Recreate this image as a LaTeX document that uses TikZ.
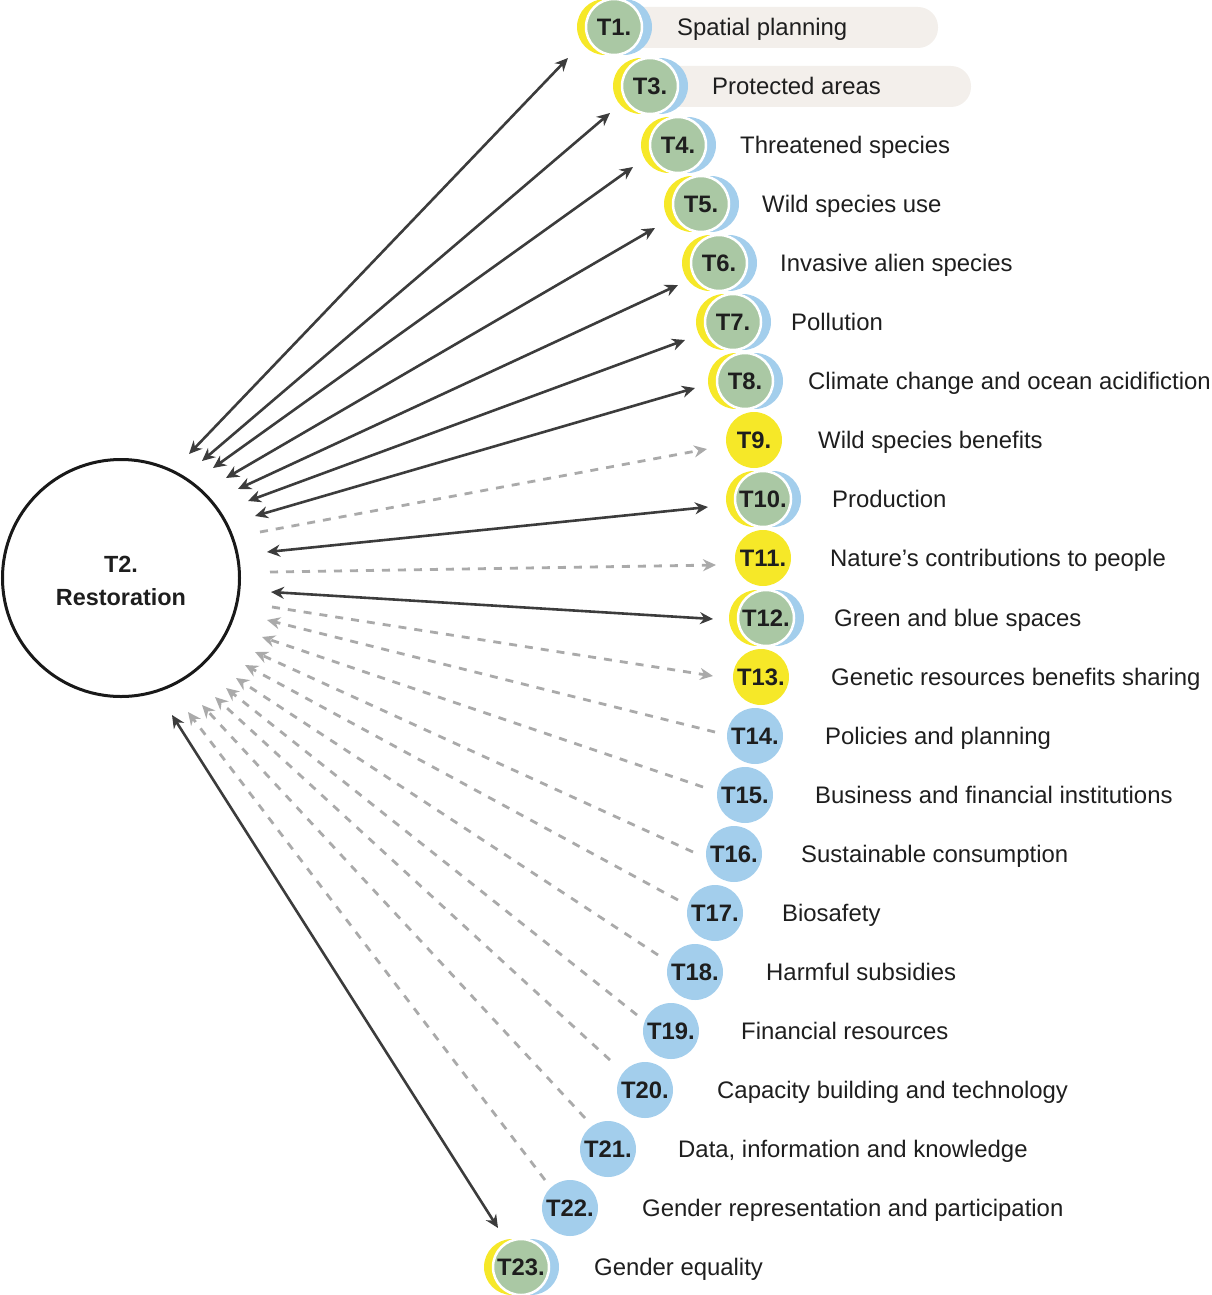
\documentclass[tikz,border=0pt]{standalone}
\usepackage{fontspec}
\setmainfont{Liberation Sans}
\usetikzlibrary{arrows.meta}
\definecolor{tgreen}{RGB}{170,200,164}
\definecolor{tyellow}{RGB}{246,232,40}
\definecolor{tblue}{RGB}{163,206,236}
\definecolor{pillc}{RGB}{243,239,235}
\definecolor{adark}{RGB}{60,60,60}
\definecolor{agray}{RGB}{170,170,170}
\definecolor{txt}{RGB}{30,30,30}
\newcommand\labfont{\fontsize{23.9}{28}\selectfont}
\newcommand\numfont{\fontsize{23.8}{28}\selectfont\bfseries}
\newcommand\mainfont{\fontsize{23.4}{33}\selectfont\bfseries}
\newcommand\mytri[4]{%
  \node[yc] (#1y) at ({#2-9},#3) {};
  \node[bc] (#1b) at ({#2+10},#3) {};
  \node[gc] (#1) at (#2,#3) {#4};
}
\newcommand\mylab[4]{\node[lab] (#1l) at (#2,{#3+8.5}) {#4};}
\begin{document}
\begin{tikzpicture}[x=1pt,y=-1pt,
  yc/.style={circle, fill=tyellow, minimum size=56pt, inner sep=0pt},
  bc/.style={circle, fill=tblue, minimum size=56pt, inner sep=0pt, font=\numfont, text=txt},
  ycn/.style={circle, fill=tyellow, minimum size=56pt, inner sep=0pt, font=\numfont, text=txt},
  gc/.style={circle, fill=tgreen, draw=white, line width=2.5pt, minimum size=56pt, inner sep=0pt, font=\numfont, text=txt},
  lab/.style={anchor=base west, font=\labfont, text=txt, inner sep=0pt},
  pill/.style={fill=pillc, rounded corners=20pt},
  sarr/.style={draw=adark, line width=2.6pt, {Stealth[length=13pt,width=12pt]}-{Stealth[length=13pt,width=12pt]}},
  darr/.style={draw=agray, line width=2.8pt, dash pattern=on 8pt off 8pt, -{Stealth[length=13pt,width=12pt]}}
]
\useasboundingbox (0,0) rectangle (1211,1295);
% pills
\fill[pill] (620,7) rectangle (938,48);
\fill[pill] (655,66) rectangle (971,107);
% main node
\node[circle, draw=black!90, line width=3pt, minimum size=237pt, inner sep=0pt] (t2) at (121,578) {};
\node[font=\mainfont, text=txt, align=center, inner sep=0pt] (t2l) at (121,581) {T2.\\Restoration};
% targets
\mytri{t1}{614}{27}{T1.}
\mytri{t3}{650}{86}{T3.}
\mytri{t4}{678}{145}{T4.}
\mytri{t5}{701}{204}{T5.}
\mytri{t6}{719}{263}{T6.}
\mytri{t7}{733}{322}{T7.}
\mytri{t8}{745}{381}{T8.}
\node[ycn] (t9) at (754,440) {T9.};
\mytri{t10}{763}{499}{T10.}
\node[ycn] (t11) at (763,558) {T11.};
\mytri{t12}{766}{618}{T12.}
\node[ycn] (t13) at (761,677) {T13.};
\node[bc] (t14) at (755,736) {T14.};
\node[bc] (t15) at (745,795) {T15.};
\node[bc] (t16) at (734,854) {T16.};
\node[bc] (t17) at (715,913) {T17.};
\node[bc] (t18) at (695,972) {T18.};
\node[bc] (t19) at (671,1031) {T19.};
\node[bc] (t20) at (645,1090) {T20.};
\node[bc] (t21) at (608,1149) {T21.};
\node[bc] (t22) at (570,1208) {T22.};
\mytri{t23}{521}{1267}{T23.}
% labels
\mylab{t1}{677}{27}{Spatial planning}
\mylab{t3}{712}{86}{Protected areas}
\mylab{t4}{740}{145}{Threatened species}
\mylab{t5}{762}{204}{Wild species use}
\mylab{t6}{780}{263}{Invasive alien species}
\mylab{t7}{791}{322}{Pollution}
\mylab{t8}{808}{381}{Climate change and ocean acidifiction}
\mylab{t9}{818}{440}{Wild species benefits}
\mylab{t10}{832}{499}{Production}
\mylab{t11}{830}{558}{Nature’s contributions to people}
\mylab{t12}{834}{618}{Green and blue spaces}
\mylab{t13}{831}{677}{Genetic resources benefits sharing}
\mylab{t14}{825}{736}{Policies and planning}
\mylab{t15}{815}{795}{Business and financial institutions}
\mylab{t16}{801}{854}{Sustainable consumption}
\mylab{t17}{782}{913}{Biosafety}
\mylab{t18}{766}{972}{Harmful subsidies}
\mylab{t19}{741}{1031}{Financial resources}
\mylab{t20}{717}{1090}{Capacity building and technology}
\mylab{t21}{678}{1149}{Data, information and knowledge}
\mylab{t22}{642}{1208}{Gender representation and participation}
\mylab{t23}{594}{1267}{Gender equality}
% connector end points
\coordinate (s1) at (189,454);  \coordinate (e1) at (568,58);
\coordinate (s3) at (202,461);  \coordinate (e3) at (610,113);
\coordinate (s4) at (213,468);  \coordinate (e4) at (633,167);
\coordinate (s5) at (226,478);  \coordinate (e5) at (655,228);
\coordinate (s6) at (238,489);  \coordinate (e6) at (678,285);
\coordinate (s7) at (248,501);  \coordinate (e7) at (685,340);
\coordinate (s8) at (255,516);  \coordinate (e8) at (695,388);
\coordinate (s9) at (260,532);  \coordinate (e9) at (707,449);
\coordinate (s10) at (267,552); \coordinate (e10) at (708,507);
\coordinate (s11) at (270,572); \coordinate (e11) at (716,565);
\coordinate (s12) at (271,592); \coordinate (e12) at (713,619);
\coordinate (s13) at (272,607); \coordinate (e13) at (713,676);
\coordinate (s14) at (715,732);  \coordinate (e14) at (267,620);
\coordinate (s15) at (703,787);  \coordinate (e15) at (262,637);
\coordinate (s16) at (693,852);  \coordinate (e16) at (255,652);
\coordinate (s17) at (678,900);  \coordinate (e17) at (245,665);
\coordinate (s18) at (658,955);  \coordinate (e18) at (236,678);
\coordinate (s19) at (637,1015); \coordinate (e19) at (226,688);
\coordinate (s20) at (610,1060); \coordinate (e20) at (215,697);
\coordinate (s21) at (585,1118); \coordinate (e21) at (202,705);
\coordinate (s22) at (545,1180); \coordinate (e22) at (188,712);
\coordinate (s23) at (172,715);  \coordinate (e23) at (498,1228);
% connectors
\foreach \i in {1,3,4,5,6,7,8,10,12,23} {\draw[sarr] (s\i) -- (e\i);}
\foreach \i in {9,11,13,14,15,16,17,18,19,20,21,22} {\draw[darr] (s\i) -- (e\i);}
\end{tikzpicture}
\end{document}
